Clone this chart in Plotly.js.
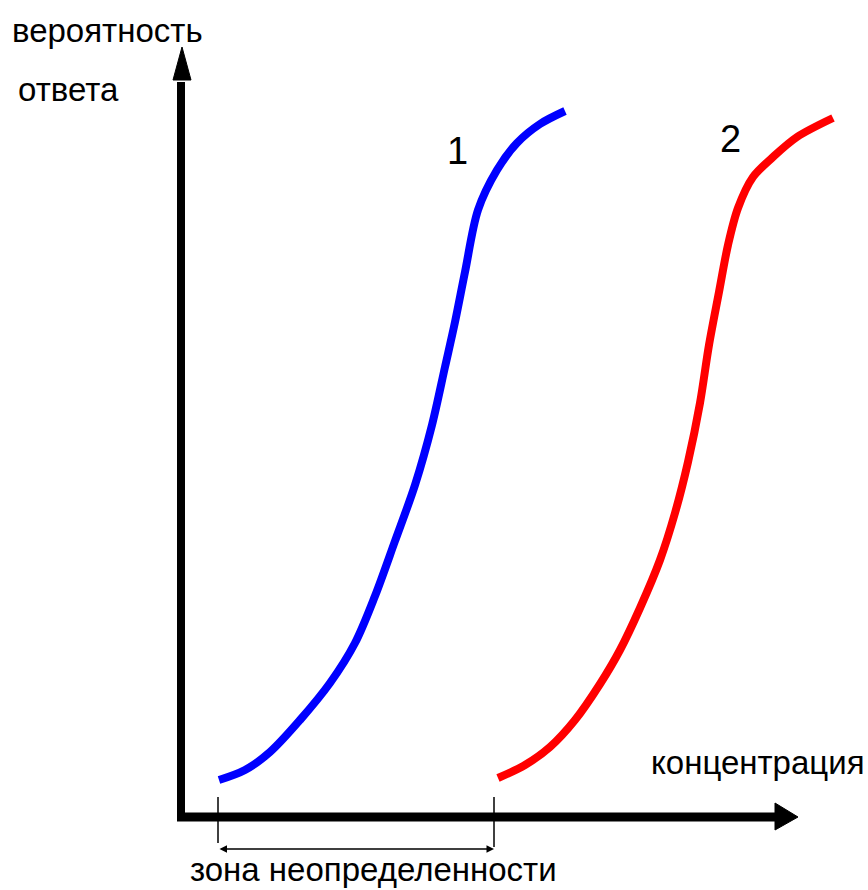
<!DOCTYPE html>
<html>
<head>
<meta charset="utf-8">
<script src="https://cdn.plot.ly/plotly-3.0.1.min.js"></script>
<style>
  html, body { margin: 0; padding: 0; background: #ffffff; }
  #chart { width: 868px; height: 890px; }
</style>
</head>
<body>
<div id="chart"></div>
<script>
// Data (x = concentration, y = response probability, arbitrary units)
const curve1X = [38, 64, 89, 119, 149, 174, 194, 214, 234, 251, 264, 274, 284, 297, 316, 336, 359, 384];
const curve1Y = [37, 47, 65, 97, 134, 174, 221, 276, 332, 392, 450, 495, 545, 607, 647, 674, 693, 706];
const curve2X = [317, 344, 369, 394, 419, 439, 459, 479, 494, 507, 519, 528, 538, 547, 557, 572, 592, 616, 652];
const curve2Y = [39, 52, 70, 97, 133, 167, 209, 257, 304, 355, 414, 472, 525, 572, 609, 640, 660, 680, 699];
const curveNames = ["1", "2"];
const zoneBounds = [37, 313];   // uncertainty zone on the concentration axis
const yLabelLines = ["вероятность", "ответа"];
const xAxisLabel = "концентрация";
const zoneLabel = "зона неопределенности";

const FONT = '"Liberation Sans", Arial, sans-serif';

const traces = [
  { x: curve1X, y: curve1Y, mode: "lines", name: curveNames[0],
    line: { color: "#0000ff", width: 8, shape: "spline", smoothing: 0.9 }, hoverinfo: "skip" },
  { x: curve2X, y: curve2Y, mode: "lines", name: curveNames[1],
    line: { color: "#ff0000", width: 8, shape: "spline", smoothing: 0.9 }, hoverinfo: "skip" }
];

const xTop = 596, yTop = 735;
const shapes = [
  // axis shafts
  { type: "line", xref: "x", yref: "y", x0: -4, y0: 0, x1: xTop, y1: 0, line: { color: "#000", width: 9 } },
  { type: "line", xref: "x", yref: "y", x0: 0, y0: -4, x1: 0, y1: yTop, line: { color: "#000", width: 8 } },
  // arrow heads
  { type: "path", xref: "x", yref: "y", path: `M ${xTop - 2},14 L ${xTop + 21},0 L ${xTop - 2},-13 Z`,
    fillcolor: "#000", line: { color: "#000", width: 1 } },
  { type: "path", xref: "x", yref: "y", path: `M -8,${yTop + 2} L 1,${yTop + 35} L 10,${yTop + 2} Z`,
    fillcolor: "#000", line: { color: "#000", width: 1 } },
  // zone boundary ticks
  { type: "line", xref: "x", yref: "y", x0: zoneBounds[0], y0: 20, x1: zoneBounds[0], y1: -26, line: { color: "#000", width: 1.5 } },
  { type: "line", xref: "x", yref: "y", x0: zoneBounds[1], y0: 20, x1: zoneBounds[1], y1: -30, line: { color: "#000", width: 1.5 } }
];

const txt = (text, x, y, size) => ({
  text: text, x: x, y: y, xref: "x", yref: "y", showarrow: false,
  xanchor: "center", yanchor: "middle", font: { family: FONT, size: size || 33, color: "#000" }
});

const annotations = [
  txt(yLabelLines[0], -74, 787),
  txt(yLabelLines[1], -113, 728),
  txt(xAxisLabel, 577, 55),
  txt(zoneLabel, 192, -52),
  txt(curveNames[0], 276, 666, 38),
  txt(curveNames[1], 549, 678, 38),
  { x: zoneBounds[1], y: -32, ax: zoneBounds[0], ay: -32, xref: "x", yref: "y", axref: "x", ayref: "y",
    text: "", showarrow: true, arrowside: "end+start", arrowhead: 2, arrowsize: 1, arrowwidth: 1.5,
    arrowcolor: "#000", standoff: 0, startstandoff: 0 }
];

const layout = {
  width: 868, height: 890,
  margin: { l: 0, r: 0, t: 0, b: 0 },
  paper_bgcolor: "#ffffff", plot_bgcolor: "#ffffff",
  showlegend: false,
  xaxis: { range: [-181, 687], visible: false, fixedrange: true },
  yaxis: { range: [-73, 817], visible: false, fixedrange: true },
  shapes: shapes,
  annotations: annotations
};

Plotly.newPlot("chart", traces, layout, { displayModeBar: false, staticPlot: true });
</script>
</body>
</html>
